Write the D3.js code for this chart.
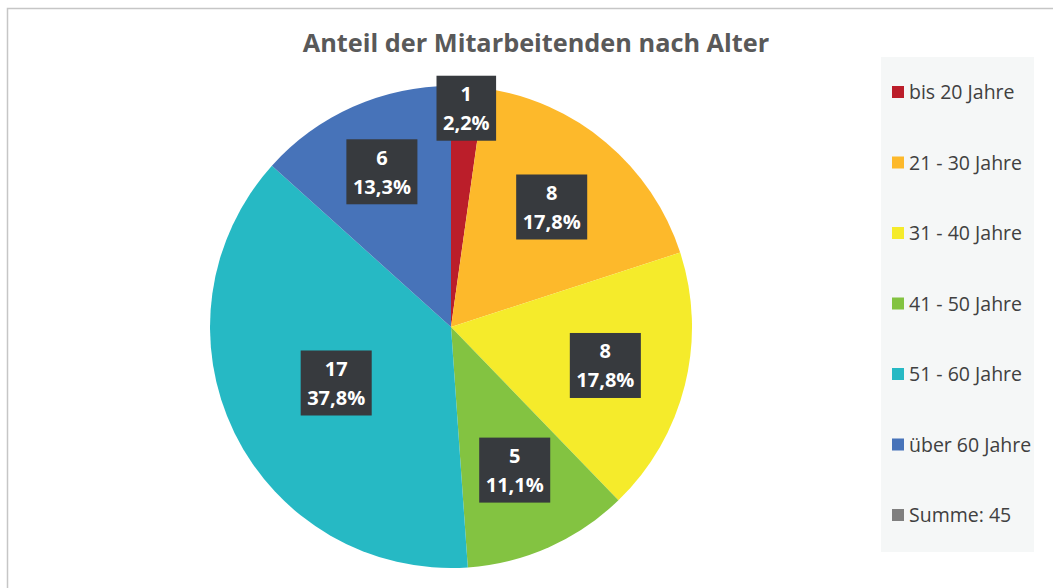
<!DOCTYPE html>
<html><head><meta charset="utf-8">
<script src="https://cdn.jsdelivr.net/npm/d3@7/dist/d3.min.js"></script>
<style>body{margin:0;background:#fff}svg{display:block}text{font-family:"Open Sans",sans-serif}</style>
</head><body><svg id="c" width="1053" height="588"></svg>
<script>
const categories = ["bis 20 Jahre","21 - 30 Jahre","31 - 40 Jahre","41 - 50 Jahre","51 - 60 Jahre","über 60 Jahre"];
const counts = [1, 8, 8, 5, 17, 6];
const percentLabels = ["2,2%","17,8%","17,8%","11,1%","37,8%","13,3%"];
const colors = ["#bb1e2a","#fdb92b","#f5eb2b","#83c341","#26b9c4","#4773b9"];
const sumLabel = "Summe: 45";
const titleText = "Anteil der Mitarbeitenden nach Alter";
// layout: label distance from centre for each slice (as fraction of radius)
const labelRadiusFrac = [0.91, 0.65, 0.66, 0.65, 0.53, 0.705];

const svg = d3.select("#c");
svg.append("rect").attr("x",7.5).attr("y",8.5).attr("width",1100).attr("height",600)
  .attr("fill","none").attr("stroke","#c6c6c6").attr("stroke-width",1.5);

svg.append("text").attr("x",536).attr("y",52).attr("text-anchor","middle")
  .attr("font-size",25.3).attr("font-weight","bold").attr("fill","#595959").text(titleText);

const cx=451, cy=327, R=241;
const pie = d3.pie().sort(null).value(d=>d);
const arcs = pie(counts);
const arc = d3.arc().innerRadius(0).outerRadius(R);
const g = svg.append("g").attr("transform",`translate(${cx},${cy})`);
g.selectAll("path").data(arcs).join("path").attr("d",arc).attr("fill",(d,i)=>colors[i]);

arcs.forEach((a,i)=>{
  const lr = R*labelRadiusFrac[i];
  const c = d3.arc().innerRadius(lr).outerRadius(lr).centroid(a);
  const lg = g.append("g").attr("transform",`translate(${c[0]},${c[1]})`);
  const rect = lg.append("rect").attr("fill","#373a3e");
  const t = lg.append("text").attr("text-anchor","middle").attr("fill","#fff")
    .attr("font-size",20).attr("font-weight","bold");
  t.append("tspan").attr("x",0).attr("y",-7).text(counts[i]);
  t.append("tspan").attr("x",0).attr("y",22).text(percentLabels[i]);
  const bb = t.node().getBBox();
  const w = bb.width+13, h = 65;
  rect.attr("x",-w/2).attr("y",-h/2).attr("width",w).attr("height",h);
});

// legend
svg.append("rect").attr("x",881).attr("y",57).attr("width",153).attr("height",495).attr("fill","#f5f7f7");
const legItems = categories.map((c,i)=>({label:c,color:colors[i]})).concat([{label:sumLabel,color:"#7f7f7f"}]);
const ly = d3.scalePoint().domain(d3.range(legItems.length)).range([92,515]);
const lgs = svg.selectAll("g.leg").data(legItems).join("g").attr("class","leg")
  .attr("transform",(d,i)=>`translate(892,${ly(i)})`);
lgs.append("rect").attr("x",0).attr("y",-6).attr("width",12).attr("height",12).attr("fill",d=>d.color);
lgs.append("text").attr("x",17).attr("y",7).attr("font-size",19.5).attr("fill","#404040").text(d=>d.label);
</script></body></html>
